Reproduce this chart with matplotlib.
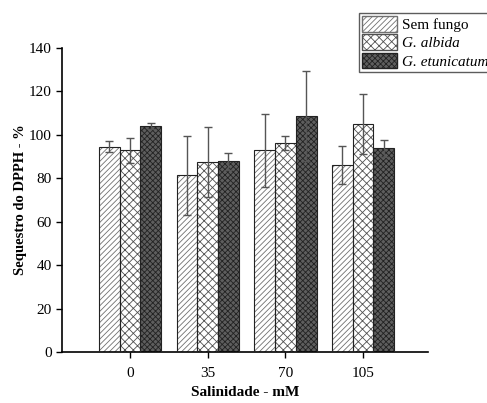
import numpy as np
import matplotlib
matplotlib.use('Agg')
import matplotlib.pyplot as plt
from matplotlib.patches import Patch

# DPPH scavenging (%) vs salinity
salinity = ['0', '35', '70', '105']
series = ['Sem fungo', 'G. albida', 'G. etunicatum']

sem_fungo = [94.6, 81.4, 92.9, 86.0]
sem_fungo_err = [2.7, 18.2, 16.8, 8.7]
albida = [92.9, 87.4, 96.1, 104.9]
albida_err = [5.7, 16.0, 3.2, 13.9]
etunicatum = [104.0, 87.8, 108.6, 93.8]
etunicatum_err = [1.4, 4.0, 20.6, 3.8]

plt.rcParams['font.family'] = ['Liberation Serif', 'DejaVu Serif']
plt.rcParams['hatch.linewidth'] = 0.6

fig = plt.figure(figsize=(4.87, 4.03), dpi=100)
ax = fig.add_axes([62/487, 1-352/403, (428-62)/487, (352-48)/403])

x = np.arange(len(salinity))
w = 0.267
values = [sem_fungo, albida, etunicatum]
errs = [sem_fungo_err, albida_err, etunicatum_err]
faces = ['white', 'white', '#5e5e5e']
hatches = ['//////', 'xxxx', 'xxxxxx']
hcolors = ['#707070', '#505050', '#222222']

for i in range(3):
    pos = x + (i - 1) * w
    ax.bar(pos, values[i], w, color=faces[i], hatch=hatches[i],
           edgecolor=hcolors[i], linewidth=0, zorder=2)
    ax.bar(pos, values[i], w, fill=False, edgecolor='#222222',
           linewidth=0.8, zorder=3)
    ax.errorbar(pos, values[i], yerr=errs[i], fmt='none', ecolor='#555555',
                elinewidth=1, capsize=3, capthick=1, zorder=4)

ax.set_xlim(-0.875, 3.835)
ax.set_ylim(0, 140)
ax.set_yticks(range(0, 141, 20))
ax.set_xticks(x)
ax.set_xticklabels(salinity)
ax.spines['top'].set_visible(False)
ax.spines['right'].set_visible(False)
for s in ['left', 'bottom']:
    ax.spines[s].set_linewidth(1.2)
ax.tick_params(direction='out', length=4, width=1, labelsize=11)
ax.tick_params(axis='x', pad=7)

ax.set_xlabel('Salinidade - mM', fontsize=11, fontweight='bold', labelpad=4)
ax.set_ylabel('Sequestro do DPPH - %', fontsize=10.5, fontweight='bold', labelpad=1)

handles = [Patch(facecolor=faces[i], hatch=hatches[i], edgecolor=hcolors[i])
           for i in range(3)]
leg = fig.legend(handles, series, loc='upper left', bbox_to_anchor=(359/487, 1-13/403),
                 fontsize=11, frameon=True, fancybox=False, edgecolor='#333333',
                 handlelength=2.3, handleheight=1.2, labelspacing=0.15,
                 handletextpad=0.3, borderpad=0.2, borderaxespad=0)
leg.get_frame().set_linewidth(1.0)
for t in leg.get_texts()[1:]:
    t.set_style('italic')

fig.savefig('out.png', dpi=100)
